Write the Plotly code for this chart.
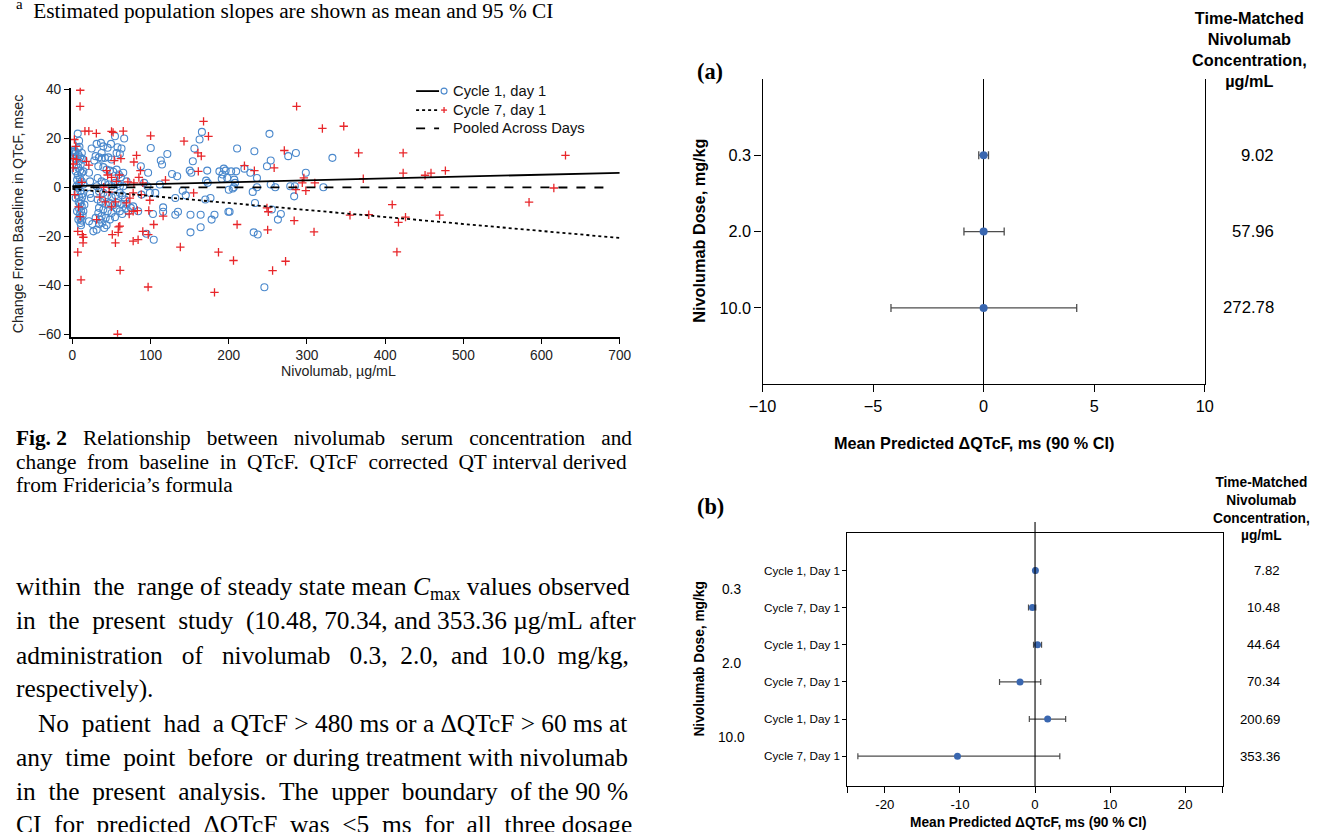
import re
import plotly.graph_objects as go

W, H = 1320, 832
# observed rendering maps page px to picture px as p' = S*p + T (measured); invert it
SX, TX = 0.982, 12.2
SY, TY = 0.987, 4.9
FS = 1.016   # font compensation for that shrink

# ---------------- Scatter data (Fig. 2) ----------------
c1_conc = [6.8, 8.5, 6.8, 4.2, 3.4, 7.6, 9.8, 11.9, 8.5, 10.6, 7.6, 9.8, 11.9, 6.8, 9.8, 11.9, 8.5, 7.6, 10.2, 11.9,
           8.5, 11.0, 9.8, 11.9, 8.5, 11.0, 9.3, 10.2, 11.9, 10.2, 11.0, 14.0, 14.0, 14.0, 15.3, 14.0, 2.5, 3.4, 4.2, 5.5,
           4.2, 5.9, 7.6, 1.3, 2.5, 5.0, 6.0, 12.5, 13.0, 9.0, 12.0, 8.0, 6.5,
           21.2, 22.5, 22.5, 23.8, 21.2, 25.5, 26.8, 31.0, 34.0, 35.2, 31.0, 36.5, 29.7, 34.0, 37.4, 41.6, 45.9, 39.5,
           45.0, 49.3, 54.4, 66.2, 62.8, 56.5, 60.7, 33.1, 39.5, 43.7, 48.0, 52.2, 56.5, 59.4, 62.0, 32.3, 37.4, 41.6,
           46.7, 50.1, 54.4, 58.6, 60.7, 31.0, 34.0, 39.5, 45.0, 50.1, 55.2, 60.7, 63.7, 32.3, 36.5, 42.5, 48.0, 52.2,
           57.7, 62.8, 34.0, 39.5, 45.0, 50.1, 56.5, 60.7, 63.7, 33.1, 37.4, 42.5, 48.0, 54.4, 38.2, 43.7, 40.8, 67.1,
           69.2, 67.9, 71.3, 74.7, 77.7, 84.1, 87.5, 88.3, 91.7, 96.0, 65.0, 69.2, 65.0, 28.0, 24.6, 37.4, 50.1, 57.7,
           29.7,
           100.2, 96.8, 99.0, 106.0, 103.0, 104.0, 94.7, 113.0, 114.6, 121.4, 116.0, 116.0, 111.7, 127.4, 134.0, 131.6,
           131.6, 135.0, 141.0, 145.0, 150.0, 152.0, 151.0, 151.0, 154.0, 156.0, 162.6, 165.6, 164.0, 164.0, 170.0,
           171.0, 172.4, 173.0, 176.6, 178.0, 181.7, 188.0, 191.0, 193.6, 192.0, 198.0, 200.0, 201.0, 203.0, 205.0,
           206.4, 207.0, 209.4, 208.0, 210.6, 220.0, 227.6, 230.6, 232.7, 233.5, 231.8, 237.0, 236.0, 236.0, 245.5,
           248.8, 252.0, 253.6, 253.6, 255.0, 259.4, 262.8, 266.6, 276.0, 278.6, 283.6, 284.5, 285.8, 298.5, 321.0,
           332.5, 196.0, 199.5]
c1_dqtcf = [21.9, 19.0, 15.8, 14.4, 13.6, 13.3, 12.2, 11.7, 10.6, 9.3, 7.9, 6.8, 5.9, 4.9, 3.5, 2.4, 1.4, -0.3, -1.6, -2.7,
            -4.1, -5.4, -6.8, -7.8, -8.7, -9.8, -11.2, -12.5, -13.6, -14.6, -15.5, 11.3, 6.5, 1.1, -7.1, -9.8, 14.7,
            11.7, 6.5, 0.4, -4.4, -9.8, -13.2, 14.4, 15.2, 9.0, 3.0, -4.0, -11.5, 16.5, 14.0, -6.0, -2.0,
            5.9, 2.4, -2.7, -4.4, -13.9, -15.0, -18.0, -17.3, -15.0, -13.2, 17.7, 18.1, 12.7, 12.2, 11.7, 12.0, 12.2,
            16.7, 16.1, 17.7, 20.8, 19.9, 15.8, 14.0, 13.6, 8.6, 8.2, 7.2, 6.8, 6.3, 7.2, 5.2, 4.1, 3.8, 2.4, 1.8, 1.1,
            0.4, 1.8, 1.4, 0.4, 0.4, -1.6, -2.3, -3.3, -4.1, -3.3, -2.3, -3.3, -5.0, -6.0, -6.8, -6.4, -7.3, -6.4,
            -6.8, -8.4, -9.1, -9.8, -10.5, -8.7, -9.8, -10.9, -10.5, -11.8, -12.5, -13.2, -12.2, -14.6, -15.5, -16.6,
            -5.0, -6.8, -8.7, -9.8, -8.4, -7.8, -9.8, 8.6, -3.0, 1.8, 0.4, 5.9, 2.4, 0.4, 10.9, 15.8, 14.0, 11.3, 16.3,
            -12.5,
            16.0, 5.9, -2.3, -2.3, -10.9, -21.4, -19.0, 10.9, 9.3, 13.6, -8.2, -10.0, 1.1, 5.4, 4.5, -4.4, -11.2,
            -10.0, -1.4, -3.3, 6.8, 5.9, -11.2, -18.4, 10.6, 15.8, 19.5, 22.6, -11.2, -16.3, -5.0, 2.7, 6.8, 1.8,
            -4.4, -13.2, -11.2, 6.5, 3.5, 7.6, 5.2, 3.8, -1.0, -10.0, 6.5, -0.5, 0.0, 3.1, 6.5, 1.8, 15.8, 7.6, 5.9,
            -1.9, 14.7, -6.4, -18.4, -19.3, 3.8, 0.0, -40.8, 8.6, 21.8, 10.9, 1.1, -9.1, 0.0, -13.2, -10.9, 12.7,
            0.4, -3.7, 0.4, 14.0, 5.9, 0.0, 12.0, 6.8, -10.0]

c7_conc = [10.0, 9.8, 1.0, 1.0, 1.0, 4.2, 2.5, 16.0, 21.0, 30.6, 50.0, 52.0, 65.0, 18.0, 21.0, 6.8, 12.7, 14.0, 13.6,
           6.8, 11.0, 57.7, 61.0, 55.0, 51.0, 58.6, 59.0, 62.0, 53.5, 77.7, 84.0, 90.0, 97.0, 96.8, 104.0, 100.0, 82.0,
           78.6, 87.0, 71.0, 78.6, 85.0, 90.0, 88.0, 77.7, 73.5, 69.0, 72.6, 83.0, 77.7, 97.7, 99.0, 5.5, 43.7, 45.0,
           50.0, 56.4, 31.0, 60.6, 40.0, 47.0, 35.0, 42.0, 55.0, 50.0, 60.0, 8.0, 12.0, 3.0, 10.0,
           116.0, 119.0, 138.0, 142.7, 160.5, 161.0, 167.7, 174.0, 164.8, 155.0, 186.8, 181.7, 206.0, 210.6, 220.0,
           232.7, 248.8, 250.5, 249.7, 256.0, 258.0, 271.0, 272.6, 283.6, 285.8, 286.7, 296.0, 294.0, 298.5, 310.0,
           309.0, 319.7, 347.0, 366.0, 423.0, 423.0, 372.0, 451.0, 458.6, 477.0, 409.0, 355.0, 379.0, 426.0, 417.0,
           469.6, 415.0, 584.0, 615.7, 630.6]
c7_dqtcf = [39.6, 33.0, 11.7, 9.5, 7.9, 16.7, 19.5, 22.9, 22.9, 22.0, 22.8, 22.4, 22.9, 10.6, 9.0, -18.0, -19.3, -20.4,
            -22.7, -26.5, -37.8, -60.0, -33.9, -22.7, -19.3, -18.4, -16.2, 11.7, 10.9, -22.0, -21.4, -18.0, -19.3,
            -40.7, -15.2, 21.0, 13.0, 10.3, 6.8, 2.2, 1.8, 4.0, 1.8, -3.0, -2.3, -4.4, -6.4, -10.9, -9.5, -9.8, -9.5,
            -5.3, 11.3, 6.8, 5.0, 4.0, 2.4, -13.2, -15.9, 0.0, -2.0, -4.0, -6.0, -6.0, -8.0, 5.0, -8.0, 2.0, -3.0,
            -12.0,
            -11.8, 2.9, -24.4, 18.8, 14.0, 6.5, 26.9, 20.8, 12.7, -2.3, -26.5, -42.9, -29.9, -15.2, 8.8, 6.8, -8.4,
            -10.0, -17.4, -34.0, 7.9, 15.0, -30.2, -13.6, -1.0, 33.0, 3.8, 1.8, -1.4, 1.8, -18.2, 24.0, 24.9, 14.0,
            14.0, 5.8, 3.5, 4.9, 5.8, 6.8, -7.1, -11.4, -11.2, -12.2, -14.3, -11.4, -26.4, -6.1, -0.3, 13.0]

# fitted slopes (endpoints of each regression line)
fit_conc = [0, 700]
fit_c1 = [0.5, 5.9]
fit_c7 = [-0.7, -20.7]
pooled_conc = [0, 690]
fit_pooled = [0.0, -0.1]
legend_names = ["Cycle 1, day 1", "Cycle 7, day 1", "Pooled Across Days"]

# ---------------- Forest (a) ----------------
a_dose = ["0.3", "2.0", "10.0"]
a_mean = [0.0, 0.0, 0.0]
a_low = [-0.22, -0.89, -4.19]
a_high = [0.22, 0.93, 4.21]
a_conc = ["9.02", "57.96", "272.78"]

# ---------------- Forest (b) ----------------
b_visit = ["Cycle 1, Day 1", "Cycle 7, Day 1", "Cycle 1, Day 1", "Cycle 7, Day 1", "Cycle 1, Day 1", "Cycle 7, Day 1"]
b_dose = ["0.3", "2.0", "10.0"]
b_mean = [0.05, -0.35, 0.33, -2.0, 1.68, -10.33]
b_low = [-0.1, -0.87, -0.2, -4.73, -0.76, -23.6]
b_high = [0.2, 0.1, 0.87, 0.76, 4.08, 3.3]
b_conc = ["7.82", "10.48", "44.64", "70.34", "200.69", "353.36"]

SANS = "Liberation Sans, Arial, sans-serif"
SERIF = "Liberation Serif, Times New Roman, serif"
PT_BLUE = "#3a67b0"
BAR = "#4d4d4d"
C1_COL = "#4a88cc"
C7_COL = "#e8262a"


def px(x):
    """target picture px x -> paper fraction"""
    return (x - TX) / SX / W


def py(y):
    """target picture px y -> paper fraction"""
    return 1 - (y - TY) / SY / H


def fs(s):
    return s * FS


# Times-Roman advance widths (1/1000 em)
TW = {' ': 250, '!': 333, '%': 833, "'": 333, '(': 333, ')': 333, ',': 250, '-': 333, '.': 250, '/': 278,
      ':': 278, ';': 278, '\u2039': 564, '\u203a': 564, '=': 564, '?': 444, '\u2019': 333, 'µ': 500, 'Δ': 612,
      '\u00a0': 250,
      'A': 722, 'B': 667, 'C': 667, 'D': 722, 'E': 611, 'F': 556, 'G': 722, 'H': 722, 'I': 333, 'J': 389,
      'K': 722, 'L': 611, 'M': 889, 'N': 722, 'O': 722, 'P': 556, 'Q': 722, 'R': 667, 'S': 556, 'T': 611,
      'U': 722, 'V': 722, 'W': 944, 'X': 722, 'Y': 722, 'Z': 611,
      'a': 444, 'b': 500, 'c': 444, 'd': 500, 'e': 444, 'f': 333, 'g': 500, 'h': 500, 'i': 278, 'j': 278,
      'k': 500, 'l': 278, 'm': 778, 'n': 500, 'o': 500, 'p': 500, 'q': 500, 'r': 333, 's': 389, 't': 278,
      'u': 500, 'v': 500, 'w': 722, 'x': 500, 'y': 500, 'z': 444}
for d in '0123456789':
    TW[d] = 500
CAL = 1.028   # empirical rendering correction


def tw(s, size):
    s = s.replace('&lt;', '\u2039').replace('&gt;', '\u203a')
    total, scale = 0.0, 1.0
    for tok in re.split(r'(<[^>]+>)', s):
        if tok.startswith('<'):
            t = tok.lower()
            if t in ('<sub>', '<sup>'):
                scale = 0.7
            elif t in ('</sub>', '</sup>'):
                scale = 1.0
            continue
        for ch in tok:
            total += TW.get(ch, 500) * scale
    return total * size / 1000.0 * CAL


def justify(text, size, width):
    words = text.split(' ')
    gaps = len(words) - 1
    nat = sum(tw(w, size) for w in words) + gaps * 250 * size / 1000.0 * CAL
    n = max(0, int(round((width - nat) / (0.25 * size * CAL))))
    out = words[0]
    for g in range(gaps):
        k = 1 + n // gaps + (1 if g < n % gaps else 0)
        out += '\u00a0' * k + words[g + 1]
    return out


fig = go.Figure()

fig.add_trace(go.Scatter(x=c1_conc, y=c1_dqtcf, mode="markers", xaxis="x", yaxis="y", showlegend=False,
                         marker=dict(symbol="circle-open", size=7, color=C1_COL, line=dict(width=1.1))))
fig.add_trace(go.Scatter(x=c7_conc, y=c7_dqtcf, mode="markers", xaxis="x", yaxis="y", showlegend=False,
                         marker=dict(symbol="cross-thin-open", size=6, color=C7_COL,
                                     line=dict(width=1.3, color=C7_COL))))
fig.add_trace(go.Scatter(x=fit_conc, y=fit_c1, mode="lines", xaxis="x", yaxis="y", showlegend=False,
                         line=dict(color="black", width=1.8, dash="solid")))
fig.add_trace(go.Scatter(x=fit_conc, y=fit_c7, mode="lines", xaxis="x", yaxis="y", showlegend=False,
                         line=dict(color="black", width=1.8, dash="dot")))
fig.add_trace(go.Scatter(x=pooled_conc, y=fit_pooled, mode="lines", xaxis="x", yaxis="y", showlegend=False,
                         line=dict(color="black", width=1.8, dash="dash")))

a_pos = list(range(1, len(a_dose) + 1))
fig.add_trace(go.Scatter(x=a_mean, y=a_pos, mode="markers", xaxis="x2", yaxis="y2", showlegend=False,
                         marker=dict(color=PT_BLUE, size=8),
                         error_x=dict(type="data", symmetric=False,
                                      array=[h - m for h, m in zip(a_high, a_mean)],
                                      arrayminus=[m - l for m, l in zip(a_mean, a_low)],
                                      color=BAR, thickness=1.3, width=4)))
b_pos = list(range(1, len(b_visit) + 1))
fig.add_trace(go.Scatter(x=b_mean, y=b_pos, mode="markers", xaxis="x3", yaxis="y3", showlegend=False,
                         marker=dict(color=PT_BLUE, size=7),
                         error_x=dict(type="data", symmetric=False,
                                      array=[h - m for h, m in zip(b_high, b_mean)],
                                      arrayminus=[m - l for m, l in zip(b_mean, b_low)],
                                      color=BAR, thickness=1.2, width=3)))

ax_common = dict(showgrid=False, zeroline=False, showline=True, linecolor="black", ticks="outside",
                 tickcolor="black")

leg_rows = [90, 109, 127.3]
leg_dash = ["solid", "dot", "dash"]
shapes = [dict(type="line", xref="x3", yref="y3 domain", x0=0, x1=0, y0=0, y1=1.045,
               line=dict(color="black", width=1.1))]
for yy, dsh in zip(leg_rows, leg_dash):
    shapes.append(dict(type="line", xref="paper", yref="paper", x0=px(415), x1=px(438), y0=py(yy), y1=py(yy),
                       line=dict(color="black", width=1.8, dash=dsh)))
shapes.append(dict(type="circle", xref="paper", yref="paper", x0=px(440), x1=px(446), y0=py(leg_rows[0] + 3),
                   y1=py(leg_rows[0] - 3), line=dict(color=C1_COL, width=1.1)))
shapes.append(dict(type="line", xref="paper", yref="paper", x0=px(440), x1=px(446), y0=py(leg_rows[1]),
                   y1=py(leg_rows[1]), line=dict(color=C7_COL, width=1.3)))
shapes.append(dict(type="line", xref="paper", yref="paper", x0=px(443), x1=px(443), y0=py(leg_rows[1] - 3),
                   y1=py(leg_rows[1] + 3), line=dict(color=C7_COL, width=1.3)))

layout = dict(
    width=W, height=H, margin=dict(l=0, r=0, t=0, b=0), autosize=False,
    paper_bgcolor="white", plot_bgcolor="white", hovermode=False, showlegend=False,
    xaxis=dict(ax_common, domain=[px(69), px(619)], range=[-2.2, 700], tickvals=list(range(0, 701, 100)),
               linewidth=1.6, ticklen=5, tickwidth=1.4, tickfont=dict(family=SANS, size=fs(13.5), color="#222"),
               anchor="y"),
    yaxis=dict(ax_common, domain=[py(335.7), py(86.7)], range=[-61, 40.6], tickvals=[-60, -40, -20, 0, 20, 40],
               linewidth=1.6, ticklen=5, tickwidth=1.4, tickfont=dict(family=SANS, size=fs(13.5), color="#222"),
               anchor="x"),
    xaxis2=dict(ax_common, domain=[px(762), px(1205)], range=[-10, 10], tickvals=[-10, -5, 0, 5, 10],
                linewidth=1.2, ticklen=7, tickwidth=1.1, zeroline=True, zerolinecolor="black", zerolinewidth=1.2,
                tickfont=dict(family=SANS, size=fs(16), color="black"), anchor="y2"),
    yaxis2=dict(ax_common, domain=[py(383.3), py(77.7)], range=[4, 0], tickvals=a_pos, ticktext=a_dose,
                linewidth=1.2, ticklen=7, tickwidth=1.1, mirror=True,
                tickfont=dict(family=SANS, size=fs(16), color="black"), anchor="x2"),
    xaxis3=dict(ax_common, domain=[px(847), px(1223)], range=[-25, 25],
                tickvals=[-25, -20, -10, 0, 10, 20, 25], ticktext=[" ", "-20", "-10", "0", "10", "20", " "],
                linewidth=1.1, ticklen=6, tickwidth=1.0, mirror=True,
                tickfont=dict(family=SANS, size=fs(13), color="black"), anchor="y3"),
    yaxis3=dict(ax_common, domain=[py(785), py(532.3)], range=[6.8, 0], tickvals=b_pos, ticktext=b_visit,
                linewidth=1.1, ticklen=4, tickwidth=1.0, mirror=True,
                tickfont=dict(family=SANS, size=fs(11.5), color="black"), anchor="x3"),
    shapes=shapes,
)
fig.update_layout(**layout)

ann = []


def add(text, x, y, size, family=SANS, xanchor="center", yanchor="middle", angle=0, color="black",
        xref="paper", yref="paper"):
    ann.append(dict(text=text, x=x, y=y, xref=xref, yref=yref, xanchor=xanchor, yanchor=yanchor,
                    showarrow=False, textangle=angle, font=dict(family=family, size=fs(size), color=color)))


add("Nivolumab, µg/mL", px(337), py(370), 14, color="#222")
add("Change From Baseline in QTcF, msec", px(16.5), py(213), 14, angle=-90, color="#222")
for yy, name in zip(leg_rows, legend_names):
    add(name, px(450), py(yy), 14.5, xanchor="left", color="#111")

add("<b>(a)</b>", px(694), py(70), 22, family=SERIF, xanchor="left")
add("<b>Time-Matched<br>Nivolumab<br>Concentration,<br>µg/mL</b>", px(1250), py(48.7), 16)
for pos, val in zip(a_pos, a_conc):
    add(val, px(1276), pos, 16.5, xanchor="right", yref="y2")
add("<b>Nivolumab Dose, mg/kg</b>", px(698), py(230), 16, angle=-90)
add("<b>Mean Predicted ΔQTcF, ms (90 % CI)</b>", px(974), py(442), 16)

add("<b>(b)</b>", px(694), py(506), 22, family=SERIF, xanchor="left")
add("<b>Time-Matched<br>Nivolumab<br>Concentration,<br>µg/mL</b>", px(1262), py(508.4), 13.5)
for pos, val in zip(b_pos, b_conc):
    add(val, px(1282), pos, 13, xanchor="right", yref="y3")
for i, dose in enumerate(b_dose):
    add(dose, px(731), 2 * i + 1.5, 13.5, yref="y3")
add("<b>Nivolumab Dose, mg/kg</b>", px(699), py(658), 13.5, angle=-90)
add("<b>Mean Predicted ΔQTcF, ms (90 % CI)</b>", px(1028), py(822), 13.5)

# page text (left column); the picture's left edge is reachable only from about x=12
LEFT = max(0.0, px(0))
RIGHT_PAGE = (636 - TX) / SX          # page px where the justified lines must end
add("<sup>a</sup>\u00a0\u00a0Estimated population slopes are shown as mean and 95 % CI", LEFT, py(8), 21,
    family=SERIF, xanchor="left")

CAP = 21
cap_lines = [("<b>Fig.\u00a02</b> Relationship between nivolumab serum concentration and", 437, True),
             ("change from baseline in QTcF. QTcF corrected QT interval derived", 461, True),
             ("from Fridericia\u2019s formula", 484, False)]
for txt, yy, just in cap_lines:
    t = justify(txt, fs(CAP), RIGHT_PAGE - 3) if just else txt
    add(t, LEFT, py(yy), CAP, family=SERIF, xanchor="left")

BODY = 25
body_lines = [("within the range of steady state mean <i>C</i><sub>max</sub> values observed", 587, 0, True),
              ("in the present study (10.48, 70.34, and 353.36 µg/mL after", 620, 0, True),
              ("administration of nivolumab 0.3, 2.0, and 10.0 mg/kg,", 654, 0, True),
              ("respectively).", 688, 0, False),
              ("No patient had a QTcF &gt; 480 ms or a ΔQTcF &gt; 60 ms at", 722, 34, True),
              ("any time point before or during treatment with nivolumab", 756, 0, True),
              ("in the present analysis. The upper boundary of the 90 %", 790, 0, True),
              ("CI for predicted ΔQTcF was &lt;5 ms for all three dosage", 823, 0, True)]
for txt, yy, indent, just in body_lines:
    start_page = 0.0 if indent == 0 else (indent - TX) / SX
    t = justify(txt, fs(BODY), RIGHT_PAGE - start_page - 3) if just else txt
    xx = LEFT if indent == 0 else px(indent)
    add(t, xx, py(yy), BODY, family=SERIF, xanchor="left")

fig.update_layout(annotations=ann)

fig.write_html("out.html", config={"displayModeBar": False},
               post_script="document.body.style.margin='0';document.body.style.overflow='hidden';")
